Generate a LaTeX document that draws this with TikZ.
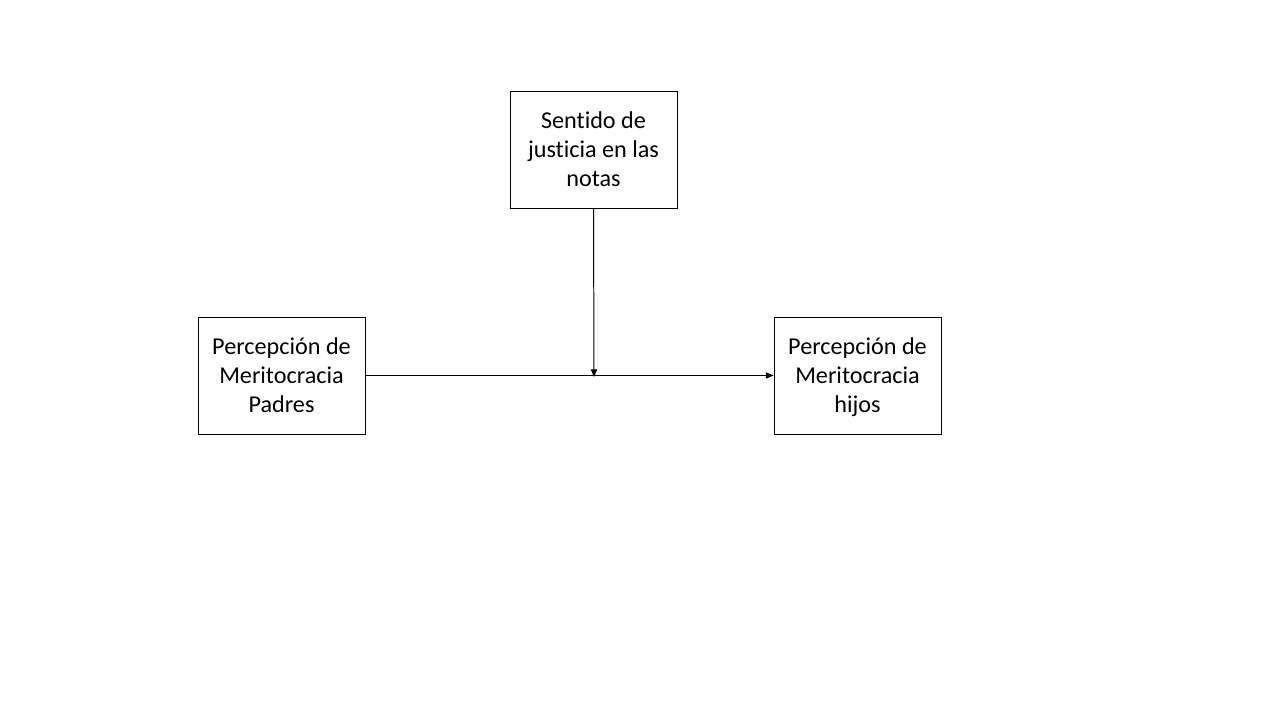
\documentclass[tikz,border=0pt]{standalone}
\usepackage{fontspec}
\setmainfont{Carlito}[Ligatures=NoCommon]
\usetikzlibrary{arrows.meta}
\begin{document}
\begin{tikzpicture}[x=0.025cm,y=-0.025cm,
  box/.style={draw=black,line width=0.7pt,minimum width=167*0.025cm,minimum height=117*0.025cm,
    inner sep=0pt,align=center,text depth=0pt,font=\fontsize{17.2}{20.6}\selectfont},
  conn/.style={line width=0.7pt,-{Triangle[length=5.5pt,width=4.5pt]}}]
\useasboundingbox[fill=white] (0,0) rectangle (1280,720);
\node[box] (top) at (593.5,149.5) {Sentido de\\justicia en las\\notas};
\node[box] (left) at (281.5,375.5) {Percepción de\\Meritocracia\\Padres};
\node[box] (right) at (857.5,375.5) {Percepción de\\Meritocracia\\hijos};
\coordinate (mid) at (594,377);
\draw[conn] (left.east) -- (right.west);
\draw[conn] (top.south) -- (mid);
\end{tikzpicture}
\end{document}
